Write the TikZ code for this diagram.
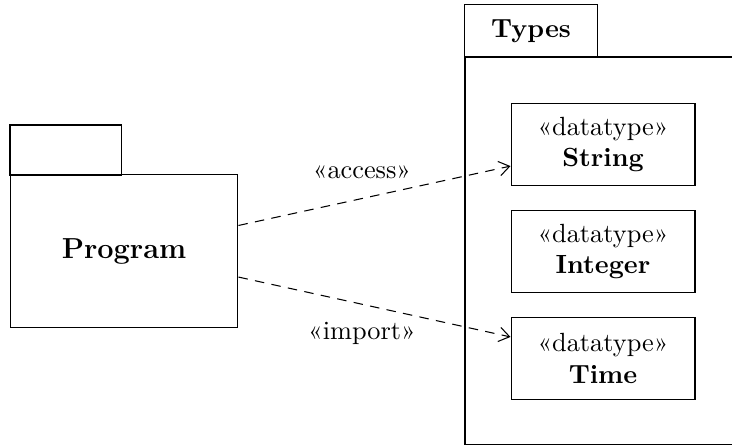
\documentclass[tikz,border=0pt]{standalone}
\usetikzlibrary{arrows.meta}
\begin{document}
\begin{tikzpicture}[x=0.38pt,y=-0.38pt,
  line width=0.4pt,
  pkgbox/.style={draw, inner sep=0pt, rectangle},
  dtbox/.style={draw, inner sep=0pt, minimum width=69.9pt, minimum height=31.5pt, align=center, font=\normalsize},
  dep/.style={draw, dash pattern=on 3.6pt off 2.8pt, -{Straight Barb[length=4pt,width=5.5pt]}},
  lbl/.style={inner sep=0pt, font=\normalsize}]
\useasboundingbox (0,0) rectangle (732,446);
% Program package
\node[pkgbox, minimum width=42.2pt, minimum height=19pt] (progtab) at (65.5,150) {};
\node[pkgbox, minimum width=86.6pt, minimum height=57.8pt, font=\fontsize{11}{13}\selectfont\bfseries] (prog) at (124,251) {Program};
% Types package
\node[pkgbox, minimum width=50.2pt, minimum height=19.8pt, font=\bfseries] (typestab) at (531,31) {Types};
\coordinate (tl) at (465,57);
\coordinate (tr) at (740,57);
\coordinate (bl) at (465,444.5);
\coordinate (br) at (740,444.5);
\draw (tr) -- (tl) -- (bl) -- (br);
% datatypes
\node[dtbox] (string) at (603,144.5) {«datatype»\\\textbf{String}};
\node[dtbox] (integer) at (603,251.5) {«datatype»\\\textbf{Integer}};
\node[dtbox] (time) at (603,358.5) {«datatype»\\\textbf{Time}};
% dependencies
\draw[dep] ([yshift=9.7pt]prog.east) -- ([yshift=-8.2pt]string.west);
\draw[dep] ([yshift=-9.9pt]prog.east) -- ([yshift=8.2pt]time.west);
\node[lbl] (acc) at (362,172) {«access»};
\node[lbl] (imp) at (362,333) {«import»};
\end{tikzpicture}
\end{document}
